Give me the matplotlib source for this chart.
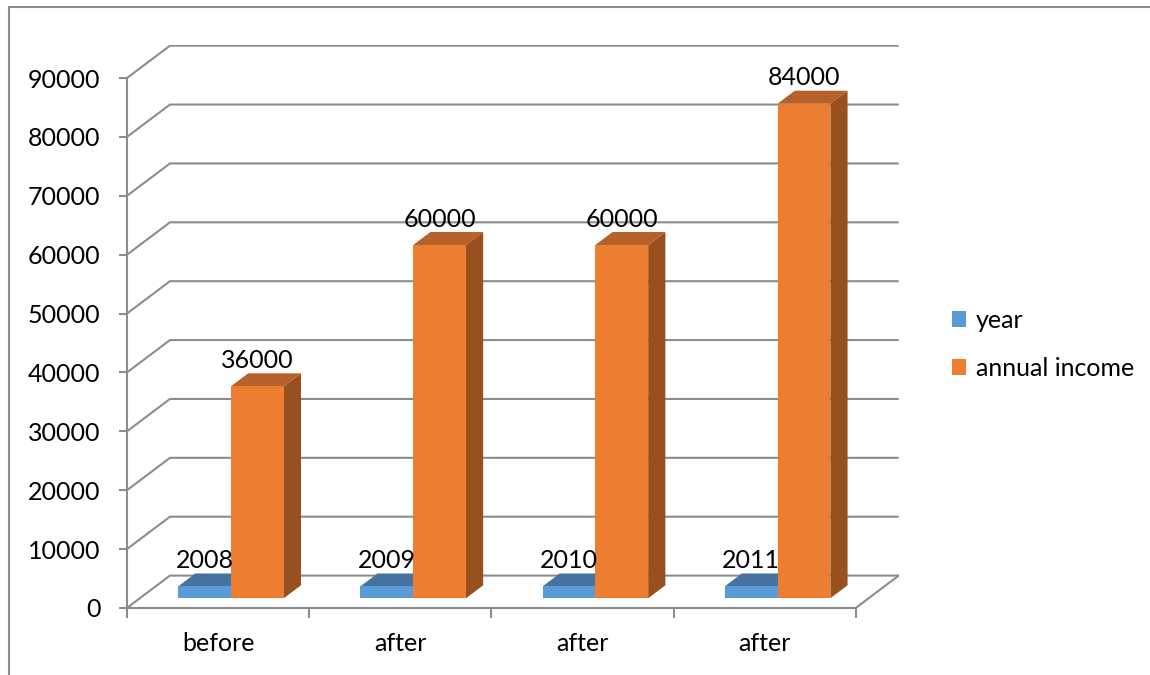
import matplotlib
matplotlib.use("Agg")
import matplotlib.pyplot as plt
from matplotlib.patches import Polygon, Patch, Rectangle

categories = ["before", "after", "after", "after"]
years = [2008, 2009, 2010, 2011]
income = [36000, 60000, 60000, 84000]
y_ticks = [0, 10000, 20000, 30000, 40000, 50000, 60000, 70000, 80000, 90000]
series_names = ["year", "annual income"]

# pseudo 3-D look: how far the back wall sits from the front, in data units
DX = 0.236
DY = 5500
Z0, Z1 = 0.3, 0.7          # bar depth range inside the floor
BAR_W = 0.29

BLUE = ("#5B9BD5", "#44739F", "#3A6690")     # front, top, side
ORANGE = ("#ED7D31", "#B6602A", "#99501F")
GRID = "#8C8C8C"

plt.rcParams["font.family"] = ["Lato", "DejaVu Sans"]
FS = 18

fig = plt.figure(figsize=(11.5, 6.75), dpi=100)
ax = fig.add_axes([0.1104, 0.0993, 0.6711, 0.834])
ax.set_xlim(0, 4 + DX)
ax.set_ylim(0, y_ticks[-1] + DY * 1.02)


def proj(x, y, z):
    return (x + z * DX, y + z * DY)


# walls: left-side diagonals and back gridlines
for v in y_ticks:
    xs = [0, DX, len(categories) + DX]
    ys = [v, v + DY, v + DY]
    ax.plot(xs, ys, color=GRID, lw=1.5, zorder=1, solid_capstyle="butt")
# floor outline
n = len(categories)
ax.plot([n, n + DX], [0, DY], color=GRID, lw=1.5, zorder=1)
ax.plot([0, n], [0, 0], color=GRID, lw=1.5, zorder=1)


def bar3d(x0, x1, h, colors):
    front, top, side = colors
    f = [proj(x0, 0, Z0), proj(x1, 0, Z0), proj(x1, h, Z0), proj(x0, h, Z0)]
    t = [proj(x0, h, Z0), proj(x1, h, Z0), proj(x1, h, Z1), proj(x0, h, Z1)]
    s = [proj(x1, 0, Z0), proj(x1, 0, Z1), proj(x1, h, Z1), proj(x1, h, Z0)]
    for pts, c in ((side, s), (top, t), (front, f)):
        ax.add_patch(Polygon(c, closed=True, facecolor=pts, edgecolor="none", zorder=3))


for i, (yr, inc) in enumerate(zip(years, income)):
    c = i + 0.5
    bar3d(c - BAR_W, c, yr, BLUE)
    bar3d(c, c + BAR_W, inc, ORANGE)
    for x0, x1, h in ((c - BAR_W, c, yr), (c, c + BAR_W, inc)):
        lx, ly = proj((x0 + x1) / 2, h, Z0)
        _, ty = proj(0, h, Z1)
        ax.annotate(f"{h}", (lx, ty), xytext=(0, 1), textcoords="offset points",
                    ha="center", va="bottom", fontsize=FS, color="black", zorder=5)

# axes
for s in ("top", "right"):
    ax.spines[s].set_visible(False)
ax.spines["left"].set_bounds(0, y_ticks[-1])
ax.spines["bottom"].set_bounds(0, n)
for s in ("left", "bottom"):
    ax.spines[s].set_color(GRID)
    ax.spines[s].set_linewidth(1.5)
    ax.spines[s].set_zorder(2)

ax.set_yticks(y_ticks)
ax.set_yticklabels([str(v) for v in y_ticks], fontsize=FS)
ax.tick_params(axis="y", length=6, width=1.5, color=GRID, pad=13)

ax.set_xticks(range(n + 1))
ax.set_xticklabels([])
ax.set_xticks([i + 0.5 for i in range(n)], minor=True)
ax.set_xticklabels(categories, minor=True, fontsize=FS)
ax.tick_params(axis="x", which="major", length=7, width=1.5, color=GRID)
ax.tick_params(axis="x", which="minor", length=0, pad=17)

handles = [Patch(facecolor=BLUE[0]), Patch(facecolor=ORANGE[0])]
fig.legend(handles, series_names, loc="center left", bbox_to_anchor=(0.808, 0.49),
           frameon=False, fontsize=FS, handlelength=0.58, handleheight=0.58,
           handletextpad=0.4, labelspacing=1.0)

# chart area border
fig.patches.append(Rectangle((8.5 / 1150, -0.1), 1.2, (675 - 7.5) / 675 + 0.1,
                             transform=fig.transFigure, fill=False,
                             edgecolor="#8C8C8C", lw=1.5))

fig.savefig("out.png", dpi=100)
